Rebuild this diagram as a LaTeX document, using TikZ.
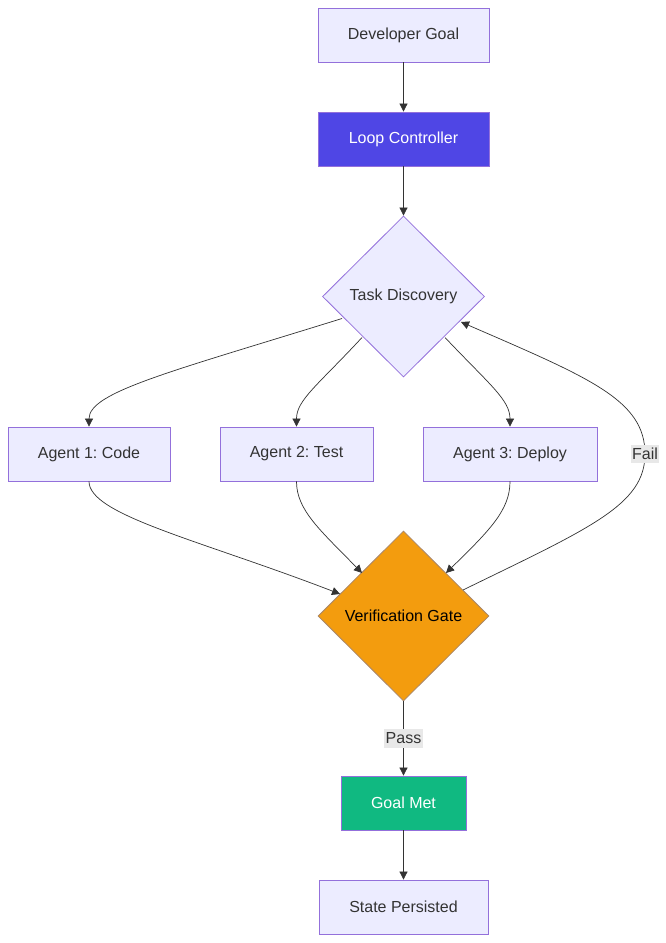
\documentclass[tikz,border=0pt]{standalone}
\usepackage{fontspec}
\setmainfont{Liberation Sans}
\usetikzlibrary{arrows.meta,shapes.geometric}
\definecolor{boxfill}{HTML}{ECECFF}
\definecolor{boxline}{HTML}{9370DB}
\definecolor{txt}{HTML}{333333}
\definecolor{indigo}{HTML}{4F46E5}
\definecolor{gate}{HTML}{F39C0E}
\definecolor{gateline}{HTML}{A8866A}
\definecolor{green}{HTML}{10B981}
\definecolor{lblbg}{HTML}{E8E8E8}
\tikzset{
  box/.style={draw=boxline, fill=boxfill, line width=0.8, minimum height=54, inner sep=0, text=txt, font=\fontsize{16}{19}\selectfont},
  dia/.style={diamond, aspect=1, draw=boxline, fill=boxfill, line width=0.8, inner sep=0, text=txt, font=\fontsize{16}{19}\selectfont},
  conn/.style={draw=txt, line width=0.7, -{Triangle[length=8,width=8]}},
  lbl/.style={fill=lblbg, text=txt, inner xsep=1.5, inner ysep=3.5, font=\fontsize{16}{19}\selectfont},
}
\frenchspacing
\begin{document}
\begin{tikzpicture}[x=1pt,y=-1pt]
\useasboundingbox (0,0) rectangle (666,943);
\node[box, minimum width=171] (dev) at (403.5,35) {Developer Goal};
\node[box, minimum width=171, fill=indigo, text=white] (loop) at (403.5,139) {Loop Controller};
\node[dia, minimum width=162, minimum height=161] (task) at (403.5,296.5) {Task Discovery};
\node[box, minimum width=162] (a1) at (89,454) {Agent 1: Code};
\node[box, minimum width=153] (a2) at (296.5,454) {Agent 2: Test};
\node[box, minimum width=174] (a3) at (510,454) {Agent 3: Deploy};
\node[dia, minimum width=171, minimum height=170, fill=gate, draw=gateline, text=black] (gate) at (403.5,616) {Verification Gate};
\node[box, minimum width=125, fill=green, text=white] (met) at (403.5,803) {Goal Met};
\node[box, minimum width=169] (state) at (403.5,907) {State Persisted};

\coordinate (t1) at (342,318.5);
\coordinate (t2) at (362,337.5);
\coordinate (t3) at (445,337.5);
\coordinate (g1) at (340,594);
\coordinate (g2) at (362,573);
\coordinate (g3) at (446,573);
\coordinate (gf) at (463,590);
\coordinate (tf) at (461,322);
\coordinate (fl) at (645,454);

\draw[conn] (dev) -- (loop);
\draw[conn] (loop) -- (task);
\draw[conn] (t1) .. controls (170,372) and (89,392) .. (a1.north);
\draw[conn] (t2) .. controls (318,385) and (296.5,400) .. (a2.north);
\draw[conn] (t3) .. controls (490,385) and (510,400) .. (a3.north);
\draw[conn] (a1.south) .. controls (89,515) and (200,540) .. (g1);
\draw[conn] (a2.south) .. controls (296.5,510) and (320,530) .. (g2);
\draw[conn] (a3.south) .. controls (510,510) and (490,530) .. (g3);
\draw[draw=txt, line width=0.7] (gf) .. controls (590,528) and (645,505) .. (fl);
\draw[conn] (fl) .. controls (645,400) and (590,378) .. (tf);
\node[lbl] (fail) at (fl) {Fail};
\draw[conn] (gate) -- (met) node[lbl, pos=0.5] (pass) {Pass};
\draw[conn] (met) -- (state);
\end{tikzpicture}
\end{document}
